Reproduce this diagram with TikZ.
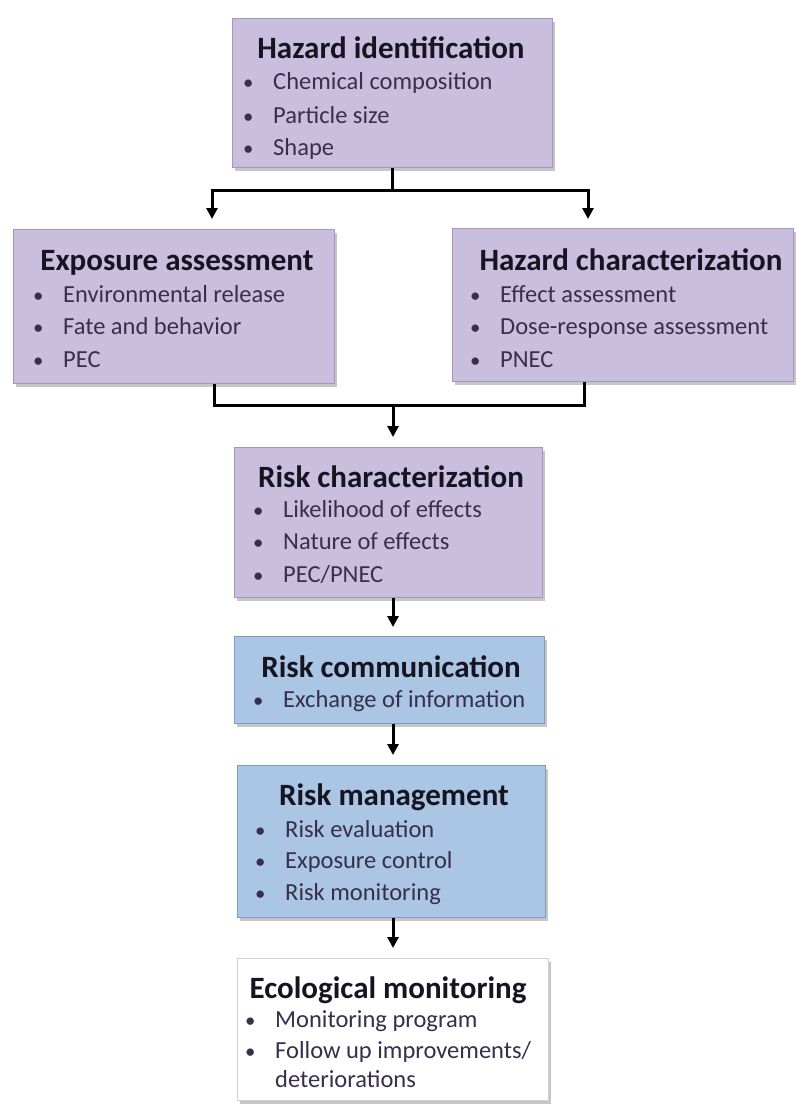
\documentclass[tikz,border=0pt]{standalone}
\usepackage{fontspec}
\setmainfont{Carlito}
\usetikzlibrary{shadows,arrows.meta}
\definecolor{purp}{RGB}{202,190,223}
\definecolor{purpd}{RGB}{165,150,190}
\definecolor{blu}{RGB}{170,198,228}
\definecolor{blud}{RGB}{125,155,195}
\definecolor{ttl}{RGB}{22,20,32}
\definecolor{itmc}{RGB}{55,47,75}
\newcommand\bul{\makebox[32pt][l]{\hspace*{2pt}\scalebox{0.85}{\textbullet}}}
\begin{document}
\begin{tikzpicture}[x=1pt,y=-1pt,
  boxbase/.style={rectangle, inner sep=0pt, anchor=north west,
    drop shadow={shadow xshift=3pt, shadow yshift=-4pt, fill=black!50, opacity=0.45}},
  pbox/.style={boxbase, draw=purpd, line width=0.8pt, fill=purp},
  bbox/.style={boxbase, draw=blud, line width=0.8pt, fill=blu},
  wbox/.style={boxbase, draw=black!18, line width=0.8pt, fill=white},
  ttlst/.style={anchor=base, inner sep=0pt, text=ttl, font=\fontsize{31}{36}\selectfont\bfseries},
  itmst/.style={anchor=base west, inner sep=0pt, text=itmc, font=\fontsize{24.5}{29}\selectfont},
  ln/.style={line width=3pt, black},
  arr/.style={ln, -{Triangle[width=11pt,length=11pt]}}
]
\useasboundingbox (0,0) rectangle (799,1104);

% boxes
\node[pbox, minimum width=320pt, minimum height=149pt] (hi) at (232,18) {};
\node[pbox, minimum width=321pt, minimum height=154pt] (ea) at (13,229) {};
\node[pbox, minimum width=341pt, minimum height=153pt] (hc) at (452,228) {};
\node[pbox, minimum width=308pt, minimum height=150pt] (rc) at (234,447) {};
\node[bbox, minimum width=310pt, minimum height=87pt] (rcm) at (234,636) {};
\node[bbox, minimum width=308pt, minimum height=152pt] (rm) at (237,765) {};
\node[wbox, minimum width=311pt, minimum height=142pt] (em) at (237,958) {};

% Hazard identification
\node[ttlst] (hit) at (391,58) {Hazard identification};
\node[itmst] (hi1) at (241,89) {\bul Chemical composition};
\node[itmst] (hi2) at (241,123) {\bul Particle size};
\node[itmst] (hi3) at (241,155) {\bul Shape};

% Exposure assessment
\node[ttlst] (eat) at (177,270) {Exposure assessment};
\node[itmst] (ea1) at (31,302) {\bul Environmental release};
\node[itmst] (ea2) at (31,334) {\bul Fate and behavior};
\node[itmst] (ea3) at (31,367) {\bul PEC};

% Hazard characterization
\node[ttlst] (hct) at (631,270) {Hazard characterization};
\node[itmst] (hc1) at (468,302) {\bul Effect assessment};
\node[itmst] (hc2) at (468,334) {\bul Dose-response assessment};
\node[itmst] (hc3) at (468,367) {\bul PNEC};

% Risk characterization
\node[ttlst] (rct) at (391,487) {Risk characterization};
\node[itmst] (rc1) at (251,517) {\bul Likelihood of effects};
\node[itmst] (rc2) at (251,549) {\bul Nature of effects};
\node[itmst] (rc3) at (251,582) {\bul PEC/PNEC};

% Risk communication
\node[ttlst] (rcmt) at (391,677) {Risk communication};
\node[itmst] (rcm1) at (251,707) {\bul Exchange of information};

% Risk management
\node[ttlst] (rmt) at (394,805) {Risk management};
\node[itmst] (rm1) at (253,837) {\bul Risk evaluation};
\node[itmst] (rm2) at (253,868) {\bul Exposure control};
\node[itmst] (rm3) at (253,900) {\bul Risk monitoring};

% Ecological monitoring
\node[ttlst] (emt) at (388,998) {Ecological monitoring};
\node[itmst] (em1) at (243,1027) {\bul Monitoring program};
\node[itmst] (em2) at (243,1058) {\bul Follow up improvements/};
\node[itmst] (em3) at (275,1087) {deteriorations};

% connectors
\coordinate (j1) at (392,190);
\coordinate (ja) at (212,190);
\coordinate (jb) at (588,190);
\draw[ln] (hi.south -| j1) -- (j1);
\draw[ln] ([xshift=-1.5pt]ja) -- ([xshift=1.5pt]jb);
\draw[arr, shorten >=10pt] (ja) -- (ja |- ea.north);
\draw[arr, shorten >=9pt] (jb) -- (jb |- hc.north);

\coordinate (ka) at (214,405);
\coordinate (kb) at (584,405);
\coordinate (k1) at (393,405);
\draw[ln] (ka |- ea.south) -- (ka) -- (kb) -- (kb |- hc.south);
\draw[arr, shorten >=10pt] (k1) -- (k1 |- rc.north);
\draw[arr, shorten >=9pt] (rc.south -| k1) -- (rcm.north -| k1);
\draw[arr, shorten >=10pt] (rcm.south -| k1) -- (rm.north -| k1);
\draw[arr, shorten >=10pt] (rm.south -| k1) -- (em.north -| k1);
\end{tikzpicture}
\end{document}
